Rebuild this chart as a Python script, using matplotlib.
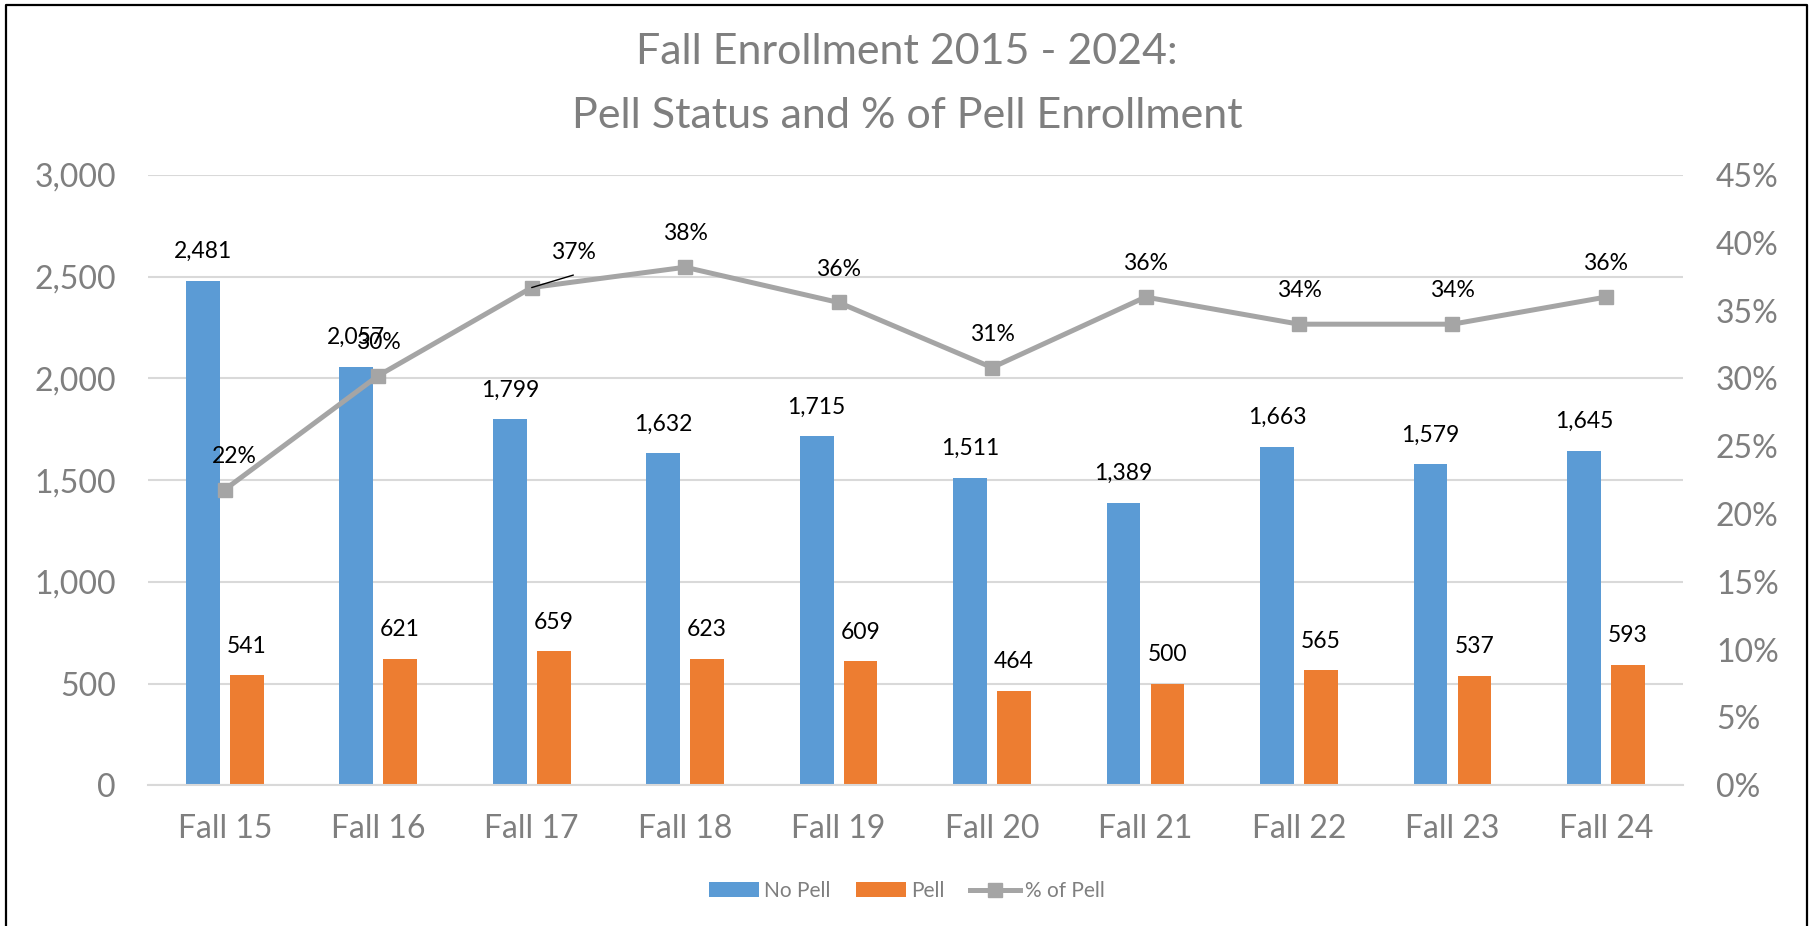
import matplotlib
matplotlib.use('agg')
import matplotlib.pyplot as plt
from matplotlib.lines import Line2D
from matplotlib.ticker import FuncFormatter, MultipleLocator
import numpy as np

categories = ['Fall 15', 'Fall 16', 'Fall 17', 'Fall 18', 'Fall 19',
              'Fall 20', 'Fall 21', 'Fall 22', 'Fall 23', 'Fall 24']
no_pell = [2481, 2057, 1799, 1632, 1715, 1511, 1389, 1663, 1579, 1645]
pell = [541, 621, 659, 623, 609, 464, 500, 565, 537, 593]
pct_pell = [21.8, 30.2, 36.7, 38.2, 35.6, 30.8, 36.0, 34.0, 34.0, 36.0]

BLUE = '#5B9BD5'
ORANGE = '#ED7D31'
GREY = '#A5A5A5'
TEXT = '#7F7F7F'
GRID = '#D9D9D9'

plt.rcParams['font.family'] = ['Lato', 'DejaVu Sans']

fig = plt.figure(figsize=(18.14, 9.26), dpi=100)
ax = fig.add_axes([0.0816, 0.152, 0.846, 0.659])
ax2 = ax.twinx()

x = np.arange(len(categories))
w = 0.22
off = 0.143
b1 = ax.bar(x - off, no_pell, w, color=BLUE, label='No Pell', zorder=2)
b2 = ax.bar(x + off, pell, w, color=ORANGE, label='Pell', zorder=2)

for xi, v in zip(x, no_pell):
    ax.annotate(f'{v:,}', (xi - off, v), xytext=(0, 21), textcoords='offset points',
                ha='center', va='center', fontsize=16.5, color='black')
for xi, v in zip(x, pell):
    ax.annotate(f'{v:,}', (xi + off, v), xytext=(0, 21), textcoords='offset points',
                ha='center', va='center', fontsize=16.5, color='black')

ax.set_ylim(0, 3000)
ax.set_xlim(-0.5, len(categories) - 0.5)
ax.yaxis.set_major_locator(MultipleLocator(500))
ax.yaxis.set_major_formatter(FuncFormatter(lambda v, p: f'{int(v):,}'))
ax.grid(axis='y', color=GRID, linewidth=1.5, zorder=0)
ax.set_axisbelow(True)
ax.set_xticks(x)
ax.set_xticklabels(categories)

ax2.plot(x, pct_pell, color=GREY, linewidth=3.6, marker='s', markersize=9.5,
         label='% of Pell', zorder=3, solid_capstyle='round')
ax2.set_ylim(0, 45)
ax2.yaxis.set_major_locator(MultipleLocator(5))
ax2.yaxis.set_major_formatter(FuncFormatter(lambda v, p: f'{int(v)}%'))

for i, v in enumerate(pct_pell):
    dx, dy = 0, 24
    if i == 0:
        dx = 7
    if i == 2:
        dx, dy = 30, 25
    ax2.annotate(f'{v:.0f}%', (x[i], v), xytext=(dx, dy), textcoords='offset points',
                 ha='center', va='center', fontsize=16.5, color='black')
# leader line for Fall 17 label
ax2.annotate('', (x[2], pct_pell[2]), xytext=(30, 9), textcoords='offset points',
             arrowprops=dict(arrowstyle='-', color='black', linewidth=1, shrinkA=0, shrinkB=0))

for a in (ax, ax2):
    for s in a.spines.values():
        s.set_visible(False)
    a.tick_params(length=0, labelsize=23, labelcolor=TEXT)
ax.tick_params(axis='y', pad=23)
ax2.tick_params(axis='y', pad=24)
ax.tick_params(axis='x', pad=21)
ax.spines['bottom'].set_visible(True)
ax.spines['bottom'].set_color(GRID)
ax.spines['bottom'].set_linewidth(1.5)
ax.set_zorder(ax2.get_zorder() - 1)
ax.patch.set_visible(False)

fig.text(0.5, 0.944, 'Fall Enrollment 2015 - 2024:', ha='center', va='center',
         fontsize=31, color=TEXT)
fig.text(0.5, 0.875, 'Pell Status and % of Pell Enrollment', ha='center', va='center',
         fontsize=31, color=TEXT)

handles = [b1, b2, Line2D([0], [0], color=GREY, linewidth=3.6, marker='s', markersize=9.5)]
fig.legend(handles, ['No Pell', 'Pell', '% of Pell'], loc='center', bbox_to_anchor=(0.5, 0.038),
           ncol=3, frameon=False, fontsize=15, labelcolor=TEXT, handlelength=2.4,
           columnspacing=1.2, handletextpad=0.25)

# chart border (left, top, right)
fig.add_artist(Line2D([6 / 1814, 6 / 1814, 1807 / 1814, 1807 / 1814], [0, 1 - 5 / 926, 1 - 5 / 926, 0],
                      transform=fig.transFigure, color='black', linewidth=1.6))

fig.savefig('out.png', dpi=100, facecolor='white')
